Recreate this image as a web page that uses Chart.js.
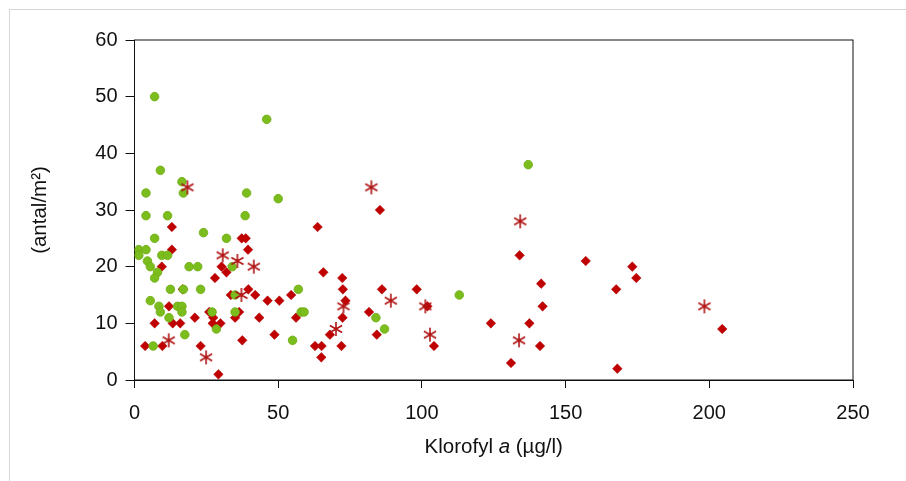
<!DOCTYPE html>
<html>
<head>
<meta charset="utf-8">
<script src="https://cdn.jsdelivr.net/npm/chart.js@4/dist/chart.umd.min.js"></script>
<style>
  html, body { margin: 0; padding: 0; background: #ffffff; }
  #card { position: absolute; left: 9px; top: 9px; width: 920px; height: 500px;
          border-left: 1px solid #d6d6d6; border-top: 1px solid #d6d6d6; }
  #wrap { position: absolute; left: 0; top: 0; width: 906px; height: 481px; }
</style>
</head>
<body>
<div id="card"></div>
<div id="wrap"><canvas id="c"></canvas></div>
<script>
// ---- data ----
const xTicks = [0, 50, 100, 150, 200, 250];
const yTicks = [0, 10, 20, 30, 40, 50, 60];

const greenX = [7, 46, 137, 9, 16.5, 4, 17, 39, 50, 4, 11.5, 38.5, 24, 7, 32, 1.5, 4, 1.5, 9.5, 11.5,
                4.5, 5.5, 19, 22, 34, 8, 7, 12.5, 17, 23, 57, 5.5, 35, 113, 8.5, 15, 16.5, 9, 16.5, 27,
                35, 58, 59, 12, 84, 28.5, 87, 17.5, 55, 6.5];
const greenY = [50, 46, 38, 37, 35, 33, 33, 33, 32, 29, 29, 29, 26, 25, 25, 23, 23, 22, 22, 22,
                21, 20, 20, 20, 20, 19, 18, 16, 16, 16, 16, 14, 15, 15, 13, 13, 13, 12, 12, 12,
                12, 12, 12, 11, 11, 9, 9, 8, 7, 6];

const diamondX = [13, 37.3, 38.7, 13, 39.5, 9.5, 30.3, 32, 28, 16.8, 39.6, 33.5, 42, 46.3, 50.4, 54.5,
                  12, 26, 36.4, 21, 27.4, 35, 43.4, 56.2, 7, 13.3, 15.9, 27.2, 29.9, 48.7, 37.5, 3.7,
                  9.7, 23, 29.2, 63.7, 85.4, 65.7, 72.3, 72.5, 73.4, 72.4, 86.1, 98.2, 81.6, 101.9,
                  68, 84.3, 62.8, 65.1, 72, 65, 104.2, 134, 157, 173.2, 174.6, 141.5, 142, 167.6,
                  124, 137.4, 141.1, 131, 168, 204.5];
const diamondY = [27, 25, 25, 23, 23, 20, 20, 19, 18, 16, 16, 15, 15, 14, 14, 15,
                  13, 12, 12, 11, 11, 11, 11, 11, 10, 10, 10, 10, 10, 8, 7, 6,
                  6, 6, 1, 27, 30, 19, 18, 16, 14, 11, 16, 16, 12, 13,
                  8, 8, 6, 6, 6, 4, 6, 22, 21, 20, 18, 17, 13, 16,
                  10, 10, 6, 3, 2, 9];

const starX = [18.4, 30.7, 35.8, 41.5, 37.2, 11.9, 24.9, 82.4, 72.7, 70.1, 89.2, 101.2, 102.8, 134.2, 133.8, 198.3];
const starY = [34, 22, 21, 20, 15, 7, 4, 34, 13, 9, 14, 13, 8, 28, 7, 13];

const xTitleParts = ["Klorofyl ", "a", " (µg/l)"];
const yTitle = "(antal/m²)";

// ---- build ----
const toPts = (xs, ys) => xs.map((x, i) => ({ x: x, y: ys[i] }));

const FONT = "'Liberation Sans', Arial, Helvetica, sans-serif";
const FS = 20;
const TFS = 20.5;

// asterisk point image (6 arms)
function makeStar(color) {
  const s = 16, c = document.createElement('canvas');
  c.width = s; c.height = s;
  const g = c.getContext('2d');
  g.strokeStyle = color; g.lineWidth = 1.6; g.lineCap = 'butt';
  const r = 7, cx = s / 2, cy = s / 2;
  g.beginPath();
  for (let k = 0; k < 3; k++) {
    const a = Math.PI / 2 + k * Math.PI / 3;
    g.moveTo(cx + r * Math.cos(a), cy - r * Math.sin(a));
    g.lineTo(cx - r * Math.cos(a), cy + r * Math.sin(a));
  }
  g.stroke();
  return c;
}
const starImg = makeStar('#b01414');

const framePlugin = {
  id: 'frame',
  beforeDatasetsDraw(chart) {
    const { ctx, chartArea: a } = chart;
    ctx.save();
    ctx.strokeStyle = '#111111';
    ctx.lineWidth = 1;
    ctx.strokeRect(a.left, a.top, a.right - a.left, a.bottom - a.top);
    ctx.restore();
  },
  afterDraw(chart) {
    const { ctx, chartArea: a } = chart;
    ctx.save();
    ctx.fillStyle = '#111111';
    ctx.textBaseline = 'middle';
    const fonts = [TFS + "px " + FONT, "italic " + TFS + "px " + FONT, TFS + "px " + FONT];
    let widths = xTitleParts.map((t, i) => { ctx.font = fonts[i]; return ctx.measureText(t).width; });
    const total = widths.reduce((p, q) => p + q, 0);
    let x = (a.left + a.right) / 2 - total / 2;
    const y = 447;
    ctx.textAlign = 'left';
    xTitleParts.forEach((t, i) => { ctx.font = fonts[i]; ctx.fillText(t, x, y); x += widths[i]; });
    ctx.restore();
  }
};

new Chart(document.getElementById('c'), {
  type: 'scatter',
  data: {
    datasets: [
      { label: 'star', data: toPts(starX, starY), pointStyle: starImg, pointRadius: 7, pointHoverRadius: 7 },
      { label: 'green', data: toPts(greenX, greenY), pointStyle: 'circle', pointRadius: 4.3,
        backgroundColor: '#7cbd1e', borderColor: '#6eac14', borderWidth: 0.8 },
      { label: 'diamond', data: toPts(diamondX, diamondY), pointStyle: 'rectRot', pointRadius: 4.8,
        backgroundColor: '#c00000', borderColor: '#b00000', borderWidth: 0.5 }
    ]
  },
  options: {
    responsive: true,
    maintainAspectRatio: false,
    animation: false,
    events: [],
    layout: { padding: { top: 40, right: 53, left: 0, bottom: 0 } },
    plugins: { legend: { display: false }, tooltip: { enabled: false } },
    scales: {
      x: {
        type: 'linear', min: 0, max: 250,
        afterFit(s) { s.height = 101; },
        afterBuildTicks(s) { s.ticks = xTicks.map(v => ({ value: v })); },
        grid: { display: true, drawOnChartArea: false, drawTicks: true, tickLength: 8, color: '#111111', tickColor: '#111111' },
        border: { display: true, color: '#111111', width: 1 },
        ticks: { color: '#111111', font: { family: FONT, size: FS }, padding: 13, maxRotation: 0 }
      },
      y: {
        type: 'linear', min: 0, max: 60,
        afterFit(s) { s.width = 134.5; },
        afterBuildTicks(s) { s.ticks = yTicks.map(v => ({ value: v })); },
        grid: { display: true, drawOnChartArea: false, drawTicks: true, tickLength: 9, color: '#111111', tickColor: '#111111' },
        border: { display: true, color: '#111111', width: 1 },
        ticks: { color: '#111111', font: { family: FONT, size: FS }, padding: 8 },
        title: { display: true, text: yTitle, color: '#111111', font: { family: FONT, size: TFS }, padding: { top: 28 } }
      }
    }
  },
  plugins: [framePlugin]
});
</script>
</body>
</html>
